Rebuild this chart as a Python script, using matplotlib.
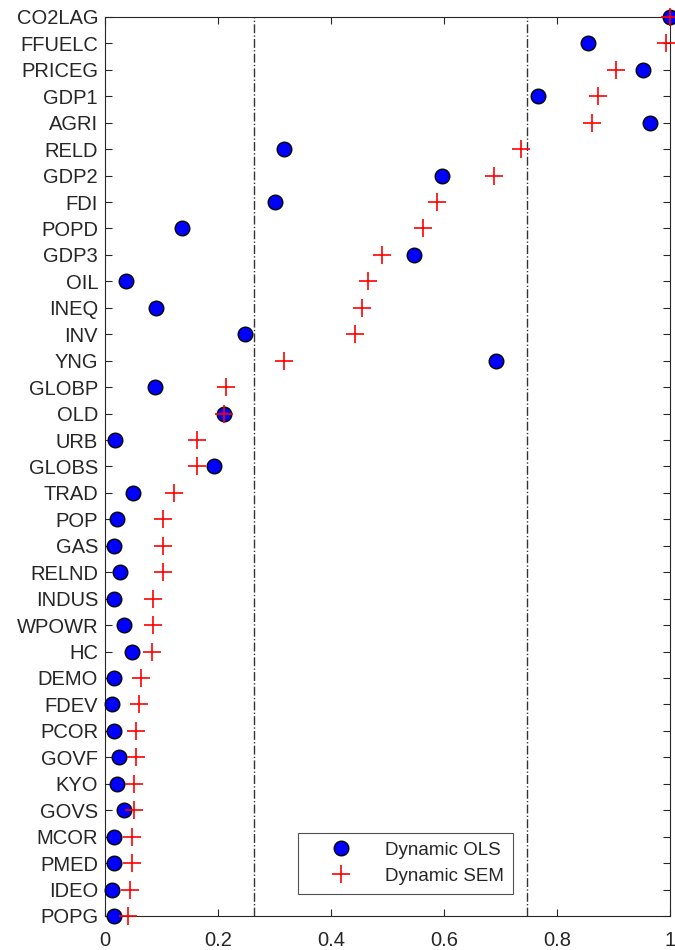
import numpy as np
import matplotlib
matplotlib.use("Agg")
from matplotlib import pyplot as plt

plt.rcParams["font.family"] = ["Liberation Sans", "DejaVu Sans"]

# variable names, top to bottom
names = ["CO2LAG", "FFUELC", "PRICEG", "GDP1", "AGRI", "RELD", "GDP2", "FDI",
         "POPD", "GDP3", "OIL", "INEQ", "INV", "YNG", "GLOBP", "OLD", "URB",
         "GLOBS", "TRAD", "POP", "GAS", "RELND", "INDUS", "WPOWR", "HC", "DEMO",
         "FDEV", "PCOR", "GOVF", "KYO", "GOVS", "MCOR", "PMED", "IDEO", "POPG"]

ols = [1.0, 0.855, 0.952, 0.766, 0.965, 0.316, 0.597, 0.301,
       0.137, 0.546, 0.037, 0.091, 0.248, 0.692, 0.088, 0.211, 0.018,
       0.193, 0.049, 0.021, 0.015, 0.027, 0.016, 0.034, 0.047, 0.015,
       0.012, 0.015, 0.024, 0.021, 0.034, 0.015, 0.015, 0.012, 0.016]

sem = [1.0, 0.993, 0.904, 0.873, 0.862, 0.737, 0.689, 0.587,
       0.562, 0.491, 0.466, 0.454, 0.443, 0.317, 0.214, 0.211, 0.162,
       0.162, 0.122, 0.103, 0.103, 0.103, 0.085, 0.085, 0.083, 0.063,
       0.060, 0.054, 0.054, 0.051, 0.051, 0.048, 0.048, 0.045, 0.040]

# cut-off lines
cutoffs = [0.264, 0.746]

n = len(names)
y = np.arange(n, 0, -1)

fig = plt.figure(figsize=(6.75, 9.5), dpi=100)
ax = fig.add_axes([0.1556, 0.0358, 0.837, 0.9464])

for c in cutoffs:
    ax.axvline(c, color="#333333", linestyle="-.", linewidth=1.0, zorder=1)

ax.plot(ols, y, linestyle="none", marker="o", markersize=10.5,
        markerfacecolor="#0000ff", markeredgecolor="black", markeredgewidth=1.0,
        label="Dynamic OLS", clip_on=False, zorder=3)
ax.plot(sem, y, linestyle="none", marker="+", markersize=12.5,
        color="#ff0000", markeredgewidth=1.2,
        label="Dynamic SEM", clip_on=False, zorder=4)

ax.set_xlim(0, 1)
ax.set_ylim(1, n)
ax.set_xticks(np.arange(0, 1.01, 0.2))
ax.set_xticklabels(["0", "0.2", "0.4", "0.6", "0.8", "1"])
ax.set_yticks(y)
ax.set_yticklabels(names)

ax.tick_params(direction="in", top=True, right=True, length=5, width=0.8,
               colors="#262626", labelsize=14.5)
ax.tick_params(axis="x", pad=11)
ax.tick_params(axis="y", pad=5)
for s in ax.spines.values():
    s.set_color("#262626")
    s.set_linewidth(0.8)

leg = ax.legend(loc="lower left", bbox_to_anchor=(0.342, 0.0245), borderaxespad=0,
                fontsize=13.5, frameon=True, fancybox=False, edgecolor="#262626",
                handlelength=3.6, handletextpad=0.5, borderpad=0.5,
                labelspacing=0.45)
leg.get_frame().set_linewidth(0.8)
for t in leg.get_texts():
    t.set_color("#262626")

fig.savefig("out.png", dpi=100)
